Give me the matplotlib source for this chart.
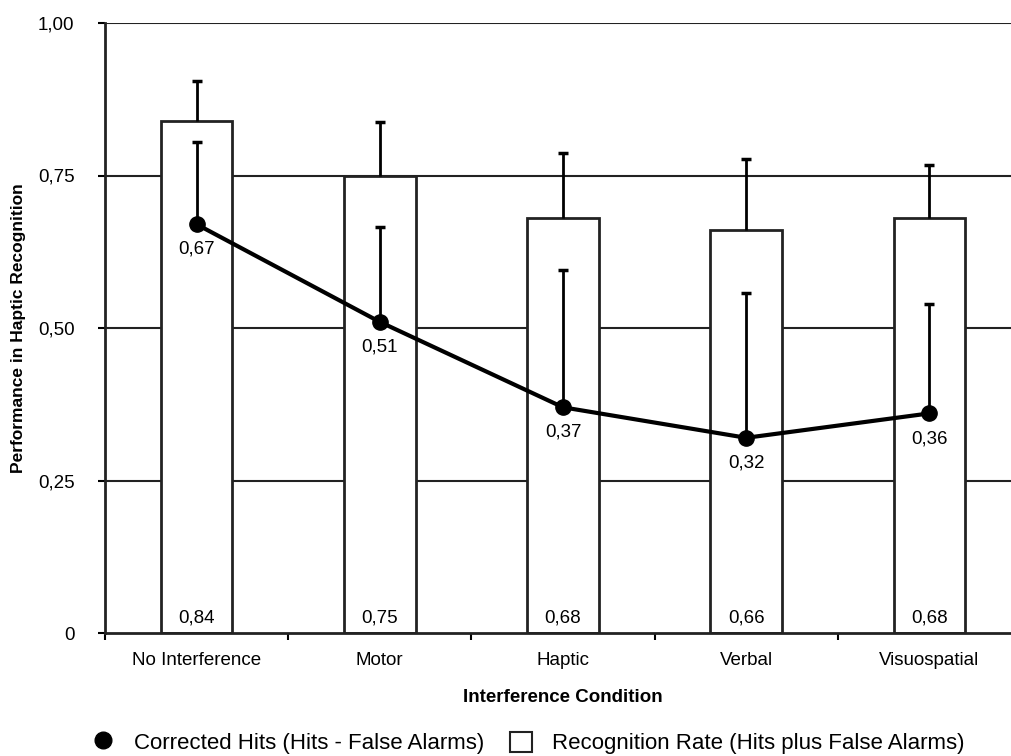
import numpy as np
import matplotlib.pyplot as plt

plt.rcParams['font.family'] = ['Liberation Sans', 'DejaVu Sans']

# DATA
conditions = ["No Interference", "Motor", "Haptic", "Verbal", "Visuospatial"]
recognition_rate = [0.84, 0.75, 0.68, 0.66, 0.68]
recognition_err = [0.065, 0.088, 0.107, 0.117, 0.087]
corrected_hits = [0.67, 0.51, 0.37, 0.32, 0.36]
corrected_err = [0.135, 0.156, 0.225, 0.237, 0.179]
y_ticks = [0, 0.25, 0.50, 0.75, 1.00]
y_tick_labels = ["0", "0,25", "0,50", "0,75", "1,00"]

x = np.arange(len(conditions))

fig = plt.figure(figsize=(10.11, 7.56), dpi=100)
ax = fig.add_axes([105 / 1011, 1 - 633 / 756, (1021 - 105) / 1011, 610 / 756])

# gridlines behind bars
for t in y_ticks[1:]:
    ax.axhline(t, color='#222222', lw=1.5, zorder=0)

# bars
bars = ax.bar(x, recognition_rate, width=0.39, color='white', edgecolor='#222222',
              linewidth=2, zorder=2)
eb = ax.errorbar(x, recognition_rate,
                 yerr=[np.zeros(len(x)), recognition_err],
                 fmt='none', ecolor='black', elinewidth=2, capsize=3.5, capthick=2.5,
                 zorder=3)
eb[1][0].remove()  # only the upper cap

# line
eb2 = ax.errorbar(x, corrected_hits,
                  yerr=[np.zeros(len(x)), corrected_err],
                  fmt='none', ecolor='black', elinewidth=2, capsize=3.5, capthick=2.5,
                  zorder=4)
eb2[1][0].remove()
line, = ax.plot(x, corrected_hits, color='black', lw=3, marker='o', markersize=11,
                zorder=5)

# value labels
for xi, v in zip(x, corrected_hits):
    ax.annotate(f"{v:.2f}".replace('.', ','), (xi, v), xytext=(0, -12),
                textcoords='offset points', ha='center', va='top', fontsize=13.5)
for xi, v in zip(x, recognition_rate):
    ax.annotate(f"{v:.2f}".replace('.', ','), (xi, 0), xytext=(0, 5),
                textcoords='offset points', ha='center', va='bottom', fontsize=13.5)

ax.set_xlim(-0.5, 4.5)
ax.set_ylim(0, 1.0)
ax.set_yticks(y_ticks)
ax.set_yticklabels(y_tick_labels, fontsize=13.5)
ax.set_xticks(x)
ax.set_xticklabels(conditions, fontsize=13.5)
ax.set_xticks(np.arange(-0.5, 5, 1), minor=True)
ax.tick_params(axis='x', which='major', length=0, pad=14)
ax.tick_params(axis='x', which='minor', length=5, width=1.5, direction='out')
ax.tick_params(axis='y', length=5, width=1.5, pad=17)

ax.spines['top'].set_visible(False)
ax.spines['right'].set_visible(False)
for s in ['left', 'bottom']:
    ax.spines[s].set_linewidth(2)
    ax.spines[s].set_color('#222222')
    ax.spines[s].set_zorder(6)

ax.set_xlabel("Interference Condition", fontsize=13.5, fontweight='bold', labelpad=14)
ax.set_ylabel("Performance in Haptic Recognition", fontsize=12.5, fontweight='bold')
ax.yaxis.set_label_coords(-79 / 916, 0.5)

bar_handle = plt.Rectangle((0, 0), 1, 1, facecolor='white', edgecolor='#222222', lw=1.5)
dot_handle = plt.Line2D([], [], color='black', marker='o', markersize=12, lw=0)
fig.legend([dot_handle, bar_handle],
           ["Corrected Hits (Hits - False Alarms)",
            "Recognition Rate (Hits plus False Alarms)"],
           loc='center left', bbox_to_anchor=(72 / 1011, 1 - 743 / 756), ncol=2,
           frameon=False, fontsize=16, handlelength=1.0, handleheight=1.0,
           columnspacing=1.15, handletextpad=0.9)

plt.savefig("out.png", dpi=100)
